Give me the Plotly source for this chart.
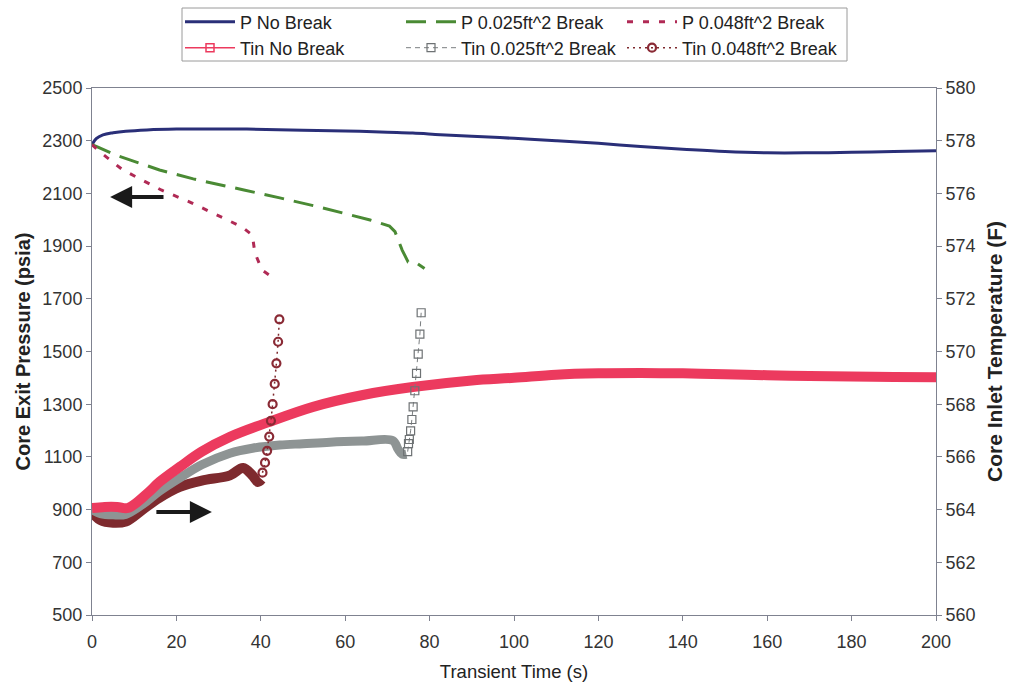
import plotly.graph_objects as go

# ---- Core exit pressure (psia) ----
t_p_nobreak = [0, 1, 2.6, 5, 8, 13, 20, 30, 36.7, 50, 60, 70, 76, 82.5, 90, 100, 110, 120, 130, 140, 150, 160, 170, 180, 190, 200]
p_nobreak = [2284, 2308, 2322, 2330, 2336, 2341, 2344, 2344, 2344, 2340, 2337, 2332, 2329, 2323, 2317, 2309, 2300, 2290, 2278, 2268, 2259, 2254, 2254, 2256, 2259, 2262]

t_p_025 = [0, 1.4, 5.5, 9, 16, 24, 33, 36, 44.5, 54.7, 65.9, 70.5, 71.8, 73.5, 74.9, 77, 78.8]
p_025 = [2285, 2276, 2246, 2227, 2189, 2155, 2125, 2113, 2083, 2045, 1999, 1976, 1955, 1885, 1840, 1835, 1815]

t_p_048 = [0, 1.9, 7.3, 16.4, 23.2, 31, 35.5, 38, 38.6, 40.3, 42, 44.1]
p_048 = [2285, 2257, 2189, 2113, 2067, 2007, 1973, 1942, 1874, 1809, 1790, 1779]

# ---- Core inlet temperature (F) ----
t_tin_nobreak = [0, 3, 6, 8.5, 13, 16, 20.8, 26, 32.7, 41.5, 52.4, 64.2, 76, 90, 100, 110, 120, 130, 140, 150, 160, 170, 180, 190, 200]
tin_nobreak = [564.06, 564.1, 564.1, 564.06, 564.6, 565.05, 565.62, 566.2, 566.76, 567.3, 567.9, 568.35, 568.65, 568.9, 569.0, 569.12, 569.17, 569.18, 569.17, 569.14, 569.1, 569.07, 569.05, 569.03, 569.02]

t_tin_025 = [0, 2, 5, 8, 12, 16, 20.8, 26, 32.7, 38, 44.5, 50, 56.4, 64, 71.3, 72.5, 73.5, 74.5]
tin_025 = [564.0, 563.85, 563.8, 563.82, 564.2, 564.7, 565.2, 565.7, 566.14, 566.33, 566.45, 566.5, 566.56, 566.6, 566.62, 566.3, 566.1, 566.1]
t_tin_025_rise = [74.8, 75.0, 75.2, 75.5, 75.8, 76.1, 76.5, 76.9, 77.3, 77.7, 78.0]
tin_025_rise = [566.2, 566.5, 566.66, 566.99, 567.42, 567.9, 568.51, 569.17, 569.9, 570.66, 571.47]

t_tin_048 = [0, 2, 5, 8, 12, 16, 20.8, 26, 32.7, 35.8, 38, 39.3, 40.2]
tin_048 = [563.9, 563.6, 563.5, 563.55, 564.0, 564.45, 564.86, 565.1, 565.3, 565.58, 565.3, 565.05, 565.15]
t_tin_048_rise = [40.4, 41.0, 41.5, 42.0, 42.4, 42.8, 43.3, 43.7, 44.1, 44.4]
tin_048_rise = [565.4, 565.78, 566.23, 566.77, 567.37, 568.0, 568.77, 569.55, 570.37, 571.22]

NAVY = "#2a2f78"
GREEN = "#4a8a34"
CRIMSON = "#b02a55"
RED = "#ec3a5e"
GRAY = "#8e9494"
MAROON = "#7e2a2e"

FONT = "Liberation Sans, Arial, sans-serif"

# plot-area geometry in pixels (used to place legend rows above the axes)
W, H = 1012, 690
ML, MR, MT, MB = 92, 76, 88, 75
PW, PH = W - ML - MR, H - MT - MB


def px_x(px):
    return (px - ML) / PW


def px_y(py):
    return (H - MB - py) / PH


fig = go.Figure()

# thick bands of dense temperature samples (no legend entry)
fig.add_trace(go.Scatter(x=t_tin_048, y=tin_048, yaxis="y2", mode="lines",
                         line=dict(color=MAROON, width=10, shape="spline"), showlegend=False))
fig.add_trace(go.Scatter(x=t_tin_025, y=tin_025, yaxis="y2", mode="lines",
                         line=dict(color=GRAY, width=9, shape="spline"), showlegend=False))
fig.add_trace(go.Scatter(x=t_tin_nobreak, y=tin_nobreak, yaxis="y2", mode="lines",
                         line=dict(color=RED, width=10, shape="spline"), showlegend=False))

# pressure curves
fig.add_trace(go.Scatter(x=t_p_nobreak, y=p_nobreak, mode="lines", name="P No Break",
                         line=dict(color=NAVY, width=3, shape="spline"), legend="legend"))
fig.add_trace(go.Scatter(x=t_p_025, y=p_025, mode="lines", name="P 0.025ft^2 Break",
                         line=dict(color=GREEN, width=3, dash="20px,10px"), legend="legend2"))
fig.add_trace(go.Scatter(x=t_p_048, y=p_048, mode="lines", name="P 0.048ft^2 Break",
                         line=dict(color=CRIMSON, width=3, dash="6px,10px"), legend="legend3"))

# legend entry for the no-break temperature band
fig.add_trace(go.Scatter(x=[None], y=[None], yaxis="y2", mode="lines+markers", name="Tin No Break",
                         line=dict(color=RED, width=1.5),
                         marker=dict(symbol="square-open", size=8, color=RED, line=dict(width=1.5)),
                         legend="legend4"))

# temperature rise after the break
fig.add_trace(go.Scatter(x=t_tin_025_rise, y=tin_025_rise, yaxis="y2", mode="lines+markers",
                         name="Tin 0.025ft^2 Break",
                         line=dict(color="#7a7e80", width=1, dash="5px,4px"),
                         marker=dict(symbol="square-open", size=8, color="#6e7274", line=dict(width=1.2)),
                         legend="legend5"))
fig.add_trace(go.Scatter(x=t_tin_048_rise, y=tin_048_rise, yaxis="y2", mode="lines+markers",
                         name="Tin 0.048ft^2 Break",
                         line=dict(color=MAROON, width=1.5, dash="2px,4px"),
                         marker=dict(symbol="circle-open", size=8, color="#8a2a35", line=dict(width=2.2)),
                         legend="legend6"))

# direction arrows
fig.add_annotation(x=4.3, y=2086, ax=17.3, ay=2086, xref="x", yref="y", axref="x", ayref="y",
                   text="", showarrow=True, arrowhead=2, arrowsize=1.1, arrowwidth=4, arrowcolor="#1a1a1a")
fig.add_annotation(x=28.4, y=891, ax=14.9, ay=891, xref="x", yref="y", axref="x", ayref="y",
                   text="", showarrow=True, arrowhead=2, arrowsize=1.1, arrowwidth=4, arrowcolor="#1a1a1a")

# legend frame
fig.add_shape(type="rect", xref="paper", yref="paper",
              x0=px_x(182), x1=px_x(847), y0=px_y(61), y1=px_y(8),
              line=dict(color="#9a9a9a", width=1), fillcolor="rgba(0,0,0,0)", layer="above")

# one single-item legend per cell of the 2x3 grid
col_px = [180, 401, 622]
row_px = [22, 48]
legends = {}
for i in range(6):
    r, c = divmod(i, 3)
    key = "legend" if i == 0 else f"legend{i + 1}"
    legends[key] = dict(x=px_x(col_px[c]), y=px_y(row_px[r]), xanchor="left", yanchor="middle",
                        orientation="h", bgcolor="rgba(0,0,0,0)", borderwidth=0,
                        itemwidth=50, font=dict(size=18, color="#222222"))

axis_line = "#7f8290"
tick_font = dict(size=18, color="#333333")
fig.update_layout(
    width=W, height=H,
    margin=dict(l=ML, r=MR, t=MT, b=MB, autoexpand=False),
    paper_bgcolor="white", plot_bgcolor="white",
    font=dict(family=FONT, size=15, color="#222222"),
    xaxis=dict(range=[0, 200], dtick=20, showgrid=False, zeroline=False,
               showline=True, linecolor=axis_line, linewidth=1, mirror=True,
               ticks="outside", ticklen=5, tickcolor=axis_line,
               tickfont=tick_font, ticklabelstandoff=5,
               title=dict(text="Transient Time (s)", standoff=14, font=dict(size=18.5, color="#222222"))),
    yaxis=dict(range=[500, 2500], tick0=500, dtick=200, showgrid=False, zeroline=False,
               showline=True, linecolor=axis_line, linewidth=1,
               ticks="outside", ticklen=5, tickcolor=axis_line,
               tickfont=tick_font,
               title=dict(text="<b>Core Exit Pressure (psia)</b>", standoff=6,
                          font=dict(size=20, color="#222222"))),
    yaxis2=dict(range=[560, 580], tick0=560, dtick=2, overlaying="y", side="right", showgrid=False,
                zeroline=False, showline=True, linecolor=axis_line, linewidth=1,
                ticks="outside", ticklen=5, tickcolor=axis_line,
                tickfont=tick_font,
                title=dict(text="<b>Core Inlet Temperature (F)</b>", standoff=12,
                           font=dict(size=21, color="#222222"))),
    **legends,
)

fig.write_html("out.html")
